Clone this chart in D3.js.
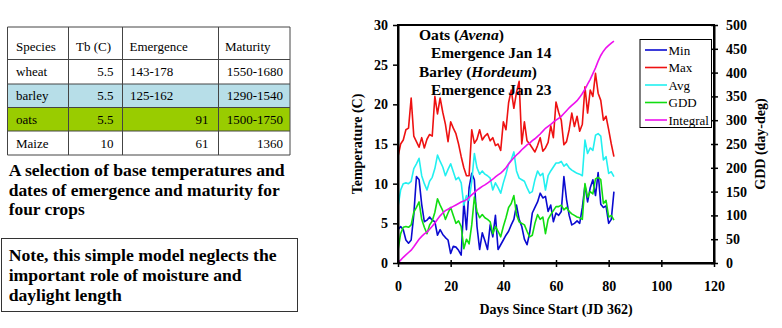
<!DOCTYPE html>
<html>
<head>
<meta charset="utf-8">
<script src="https://cdn.jsdelivr.net/npm/d3@7"></script>
<style>
  html, body { margin: 0; padding: 0; background: #fff; }
  svg { display: block; }
</style>
</head>
<body>
<svg id="c" width="782" height="328"></svg>
<script>
// ---------------- data ----------------
const tableHeader = ["Species", "Tb (C)", "Emergence", "Maturity"];
const species   = ["wheat", "barley", "oats", "Maize"];
const baseTemp  = ["5.5", "5.5", "5.5", "10"];
const emergence = ["143-178", "125-162", "91", "61"];
const maturity  = ["1550-1680", "1290-1540", "1500-1750", "1360"];

const captionLines = ["A selection of base temperatures and", "dates of emergence and maturity for", "four crops"];
const noteLines = ["Note, this simple model neglects the", "important role of moisture and", "daylight length"];

const days = d3.range(0, 83);
const minT = [4.2,4.6,4.2,2.9,2.5,2.9,6.1,10.9,10.5,7.4,5.2,5.4,5.8,5.4,5.2,3.5,4.2,3.6,3.2,2.9,
  1.2,2.1,2.0,1.6,1.0,7.7,4.2,9.5,11.3,10.5,4.6,1.7,3.8,2.8,1.7,4.8,3.3,6.0,1.7,2.3,
  2.9,3.5,4.0,4.8,5.5,7.3,5.5,4.6,3.0,2.3,3.8,6.3,7.0,7.7,8.8,8.2,8.4,6.5,7.3,5.2,
  6.3,6.0,6.5,10.9,8.0,6.0,4.8,5.0,5.3,5.0,7.0,9.8,7.7,9.5,10.5,8.5,11.4,7.4,7.0,7.2,
  5.0,5.5,9.0];
const maxT = [13.4,15.0,15.5,16.8,17.0,20.8,16.0,15.3,14.6,15.8,14.5,15.6,16.2,16.0,21.0,18.8,20.8,19.0,17.5,15.3,
  17.8,17.0,16.3,15.0,13.4,12.0,11.0,11.0,16.8,15.1,15.6,16.8,15.5,16.0,16.3,15.4,15.8,14.8,15.0,14.2,
  17.8,16.8,20.2,21.8,19.5,21.5,22.9,15.0,17.8,15.4,15.0,14.5,14.0,14.8,15.8,14.1,14.5,15.2,17.3,15.8,
  20.3,19.0,18.0,14.9,15.3,16.8,18.9,17.2,18.5,16.6,17.5,22.2,18.9,21.8,21.0,23.9,21.4,20.5,18.0,18.5,
  16.8,15.0,13.4];
const avgT = [7.1,9.2,10.0,10.1,10.0,10.3,11.9,12.5,13.2,11.0,10.0,9.2,10.3,10.8,11.9,13.6,12.8,12.1,11.0,11.8,
  12.5,11.5,10.5,10.8,10.1,7.3,8.5,7.9,10.3,13.8,12.0,11.2,11.6,11.2,11.0,10.7,9.2,10.1,9.5,8.8,
  10.1,11.2,12.5,13.0,14.0,11.6,10.7,10.5,10.3,9.5,8.8,9.0,10.5,11.6,11.0,11.3,9.2,11.0,11.6,12.1,
  12.6,12.6,12.8,12.2,12.5,12.0,11.7,11.5,11.3,11.2,11.0,15.5,13.8,14.5,14.2,16.1,16.3,16.0,13.0,13.4,
  11.3,11.5,10.9];
const gdd = [1.6,3.7,4.5,4.6,4.5,4.8,6.4,7.0,7.7,5.5,4.5,3.7,4.8,5.3,6.4,8.1,7.3,6.6,5.5,6.3,
  7.0,6.0,5.0,5.3,4.6,1.8,3.0,2.4,4.8,8.3,6.5,5.7,6.1,5.7,5.5,5.2,3.7,4.6,4.0,3.3,
  4.6,5.7,7.0,7.5,8.5,6.1,5.2,5.0,4.8,4.0,3.3,3.5,5.0,6.1,5.5,5.8,3.7,5.5,6.1,6.6,
  7.1,7.1,7.3,6.7,7.0,6.5,6.2,6.0,5.8,5.7,5.5,10.0,8.3,9.0,8.7,10.6,10.8,10.5,7.5,7.9,
  5.8,6.0,5.4];
const integral = [0,6,12,17,22,27,34,42,50,56,61,65,71,77,84,92,99,105,110,113,
  116,119,122,125,128,130,133,138,143,148,153,157,161,164,168,172,176,181,185,189,
  194,200,208,215,221,227,232,238,243,248,252,257,261,266,271,277,283,287,291,296,
  300,304,308,314,320,326,331,336,341,348,356,365,376,386,398,410,424,436,445,452,
  457,462,466];

const xTicks = [0, 20, 40, 60, 80, 100, 120];
const yLeftTicks = [0, 5, 10, 15, 20, 25, 30];
const yRightTicks = [0, 50, 100, 150, 200, 250, 300, 350, 400, 450, 500];

const seriesNames = ["Min", "Max", "Avg", "GDD", "Integral"];
const seriesColors = ["#0a0ad0", "#ee1111", "#22f0f0", "#11dd11", "#ee11ee"];

// ---------------- drawing ----------------
const SERIF = '"Liberation Serif", "Times New Roman", serif';
const svg = d3.select("#c").style("font-family", SERIF);
function T(sel) { return sel.append("text").style("font-family", SERIF).attr("fill", "#000"); }

// ---- table ----
const colX = [7.5, 68.5, 122.5, 218.5, 290];
const rowY = [27, 59.5, 84, 107.5, 131, 155];
const rowFills = [null, "#b7dee8", "#99cc00", null];
const tbl = svg.append("g");
rowFills.forEach((f, i) => {
  if (f) tbl.append("rect").attr("x", colX[0]).attr("y", rowY[i + 1])
    .attr("width", colX[4] - colX[0]).attr("height", rowY[i + 2] - rowY[i + 1]).attr("fill", f);
});
rowY.forEach(y => tbl.append("line").attr("x1", colX[0]).attr("x2", colX[4]).attr("y1", y).attr("y2", y)
  .attr("stroke", "#444").attr("stroke-width", 1));
colX.forEach(x => tbl.append("line").attr("x1", x).attr("x2", x).attr("y1", rowY[0]).attr("y2", rowY[5])
  .attr("stroke", "#444").attr("stroke-width", 1));

const fs = 13;
const hdrX = [16, 76, 129.5, 225];
tableHeader.forEach((t, i) => T(tbl).attr("x", hdrX[i]).attr("y", 51).style("font-size", fs + "px").text(t));
species.forEach((s, r) => {
  const cy = (rowY[r + 1] + rowY[r + 2]) / 2 + 4.5;
  T(tbl).attr("x", 16).attr("y", cy).style("font-size", fs + "px").text(s);
  T(tbl).attr("x", 113.5).attr("y", cy).style("font-size", fs + "px").attr("text-anchor", "end").text(baseTemp[r]);
  const leftAlign = emergence[r].includes("-");
  T(tbl).attr("x", leftAlign ? 130 : 208.5).attr("y", cy).style("font-size", fs + "px")
    .attr("text-anchor", leftAlign ? "start" : "end").text(emergence[r]);
  T(tbl).attr("x", 283).attr("y", cy).style("font-size", fs + "px").attr("text-anchor", "end").text(maturity[r]);
});

// ---- caption ----
const capW = [276, 271, 76];
captionLines.forEach((t, i) => T(svg).attr("x", 8.7).attr("y", 176 + i * 19.5)
  .style("font-size", "16px").style("font-weight", "bold")
  .attr("textLength", capW[i]).attr("lengthAdjust", "spacingAndGlyphs").text(t));

// ---- note box ----
svg.append("rect").attr("x", 1.5).attr("y", 238.5).attr("width", 296).attr("height", 73)
  .attr("fill", "none").attr("stroke", "#333").attr("stroke-width", 1);
const noteW = [268, 233, 113];
noteLines.forEach((t, i) => T(svg).attr("x", 8.7).attr("y", 261 + i * 20)
  .style("font-size", "16px").style("font-weight", "bold")
  .attr("textLength", noteW[i]).attr("lengthAdjust", "spacingAndGlyphs").text(t));

// ---- chart ----
const x = d3.scaleLinear().domain([0, 120]).range([398, 714]);
const yL = d3.scaleLinear().domain([0, 30]).range([263, 25]);
const yR = d3.scaleLinear().domain([0, 500]).range([263, 25]);

const lineL = d3.line().x((d, i) => x(days[i])).y(d => yL(d));
const lineR = d3.line().x((d, i) => x(days[i])).y(d => yR(d));

const plot = svg.append("g");
const seriesData = [minT, maxT, avgT, gdd];
seriesData.forEach((s, k) => plot.append("path").datum(s).attr("d", lineL)
  .attr("fill", "none").attr("stroke", seriesColors[k]).attr("stroke-width", 1.6).attr("stroke-linejoin", "round"));
plot.append("path").datum(integral).attr("d", lineR)
  .attr("fill", "none").attr("stroke", seriesColors[4]).attr("stroke-width", 1.6);

// frame
svg.append("rect").attr("x", x(0)).attr("y", yL(30)).attr("width", x(120) - x(0)).attr("height", yL(0) - yL(30))
  .attr("fill", "none").attr("stroke", "#000").attr("stroke-width", 2);

function styleAxis(g) {
  g.attr("font-family", null).attr("font-size", null);
  g.select(".domain").attr("stroke", "#000").attr("stroke-width", 2);
  g.selectAll(".tick line").attr("stroke", "#000").attr("stroke-width", 1.5);
  g.selectAll(".tick text").style("font-family", SERIF).style("font-size", "14px")
    .style("font-weight", "bold").attr("fill", "#000");
}

const gL = svg.append("g").attr("transform", `translate(${x(0)},0)`)
  .call(d3.axisLeft(yL).tickValues(yLeftTicks).tickSize(5).tickPadding(5).tickSizeOuter(0));
styleAxis(gL);

const gB = svg.append("g").attr("transform", `translate(0,${yL(0)})`)
  .call(d3.axisBottom(x).tickValues(xTicks).tickSize(4).tickPadding(14).tickSizeOuter(0));
styleAxis(gB);
gB.selectAll(".tick line").attr("y1", -3);

const gR = svg.append("g").attr("transform", `translate(${x(120)},0)`)
  .call(d3.axisRight(yR).tickValues(yRightTicks).tickSize(4).tickPadding(8).tickSizeOuter(0));
styleAxis(gR);
gR.selectAll(".tick line").attr("x1", -3);

// axis titles
T(svg).attr("x", 556).attr("y", 314).attr("text-anchor", "middle")
  .style("font-size", "14px").style("font-weight", "bold").text("Days Since Start (JD 362)");
T(svg).attr("transform", "translate(362,144) rotate(-90)").attr("text-anchor", "middle")
  .style("font-size", "14px").style("font-weight", "bold").text("Temperature (C)");
T(svg).attr("transform", "translate(765,144) rotate(-90)").attr("text-anchor", "middle")
  .style("font-size", "14px").style("font-weight", "bold").text("GDD (day-deg)");

// annotations
const ann = svg.append("g");
function annText(xp, yp, w) {
  return T(ann).attr("x", xp).attr("y", yp).style("font-size", "15px").style("font-weight", "bold")
    .attr("textLength", w).attr("lengthAdjust", "spacingAndGlyphs");
}
const a1 = annText(419, 39.5, 85);
a1.append("tspan").text("Oats (");
a1.append("tspan").style("font-style", "italic").text("Avena");
a1.append("tspan").text(")");
annText(431, 58, 120.5).text("Emergence Jan 14");
const a2 = annText(419, 76.5, 118);
a2.append("tspan").text("Barley (");
a2.append("tspan").style("font-style", "italic").text("Hordeum");
a2.append("tspan").text(")");
annText(431, 94.5, 120.5).text("Emergence Jan 23");

// legend
const leg = svg.append("g");
leg.append("rect").attr("x", 640).attr("y", 39.5).attr("width", 71.5).attr("height", 88)
  .attr("fill", "#fff").attr("stroke", "#000").attr("stroke-width", 1);
seriesNames.forEach((n, i) => {
  const cy = 50 + i * 17.5;
  leg.append("line").attr("x1", 645).attr("x2", 667).attr("y1", cy).attr("y2", cy)
    .attr("stroke", seriesColors[i]).attr("stroke-width", 1.6);
  T(leg).attr("x", 668.5).attr("y", cy + 4.5).style("font-size", "13px").text(n);
});
</script>
</body>
</html>
